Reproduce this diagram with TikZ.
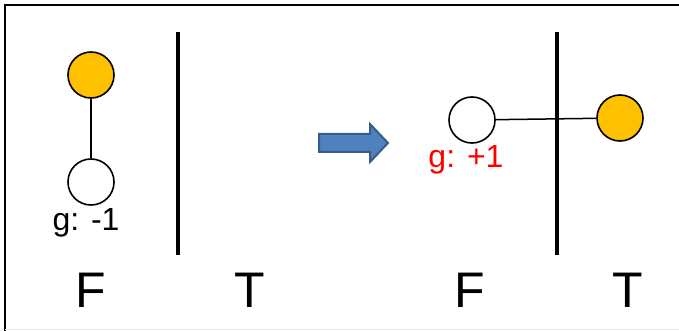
\documentclass[tikz,border=0pt]{standalone}
\usepackage{fontspec}
\setmainfont{Liberation Sans}
\definecolor{gold}{HTML}{FFC000}
\definecolor{arrowfill}{HTML}{4F81BD}
\definecolor{arrowline}{HTML}{385D8A}
\begin{document}
\begin{tikzpicture}[x=1pt,y=-1pt,
  ball/.style={circle,draw=black,line width=1.6pt,minimum size=46pt,inner sep=0pt},
  bar/.style={line width=3.5pt},
  link/.style={line width=1.5pt},
  big/.style={font=\fontsize{50}{50}\selectfont,inner sep=0pt},
  lbl/.style={font=\fontsize{32}{32}\selectfont,inner sep=0pt}]
\useasboundingbox (0,0) rectangle (679,331);
\fill[white] (0,0) rectangle (679,331);
\draw[line width=2.5pt] (5,331) -- (5,5) -- (679,5);
\draw[black!8,line width=1pt] (5,329.5) -- (679,329.5);
% left panel
\node[ball,fill=gold] (o1) at (91,75) {};
\node[ball,fill=white] (w1) at (91,182) {};
\draw[link] (o1) -- (w1);
\node[lbl] (g1) at (86,223) {g: -1};
\coordinate (b1t) at (178,32);
\coordinate (b1b) at (178,255);
\draw[bar] (b1t) -- (b1b);
\node[big] (F1) at (91,290) {F};
\node[big] (T1) at (250,290) {T};
% arrow
\draw[arrowline,fill=arrowfill,line width=2pt,line join=miter]
  (319,134) -- (370,134) -- (370,124) -- (388,143) -- (370,162) -- (370,152) -- (319,152) -- cycle;
% right panel
\coordinate (b2t) at (557,32);
\coordinate (b2b) at (557,255);
\draw[bar] (b2t) -- (b2b);
\node[ball,fill=white] (w2) at (472,120) {};
\node[ball,fill=gold] (o2) at (620,118) {};
\draw[link] (w2) -- (o2);
\node[lbl,text=red] (g2) at (466,160) {g: +1};
\node[big] (F2) at (470,290) {F};
\node[big] (T2) at (628,290) {T};
\end{tikzpicture}
\end{document}
